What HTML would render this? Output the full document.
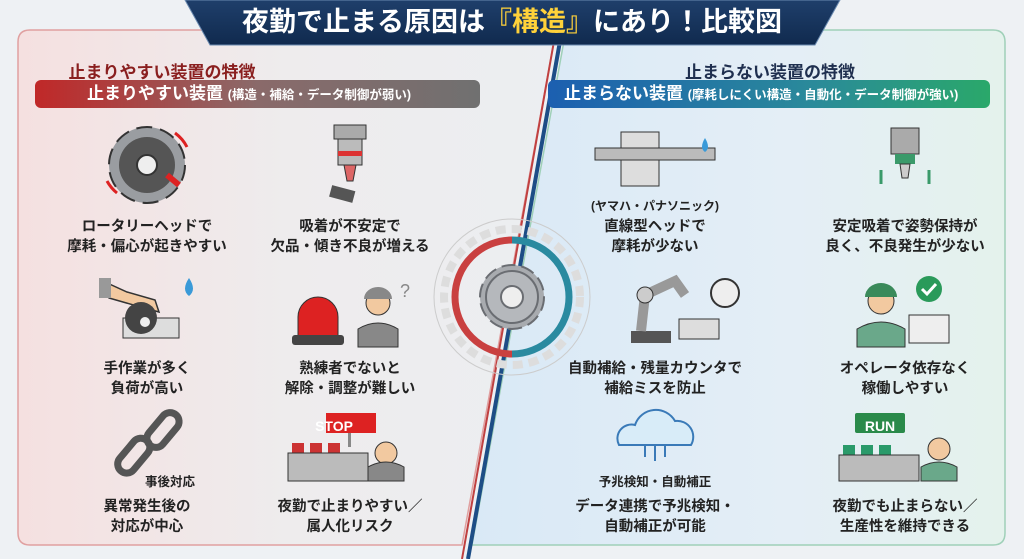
<!DOCTYPE html>
<html><head><meta charset="utf-8"><style>
*{margin:0;padding:0;box-sizing:border-box}
body{width:1024px;height:559px;overflow:hidden;background:#eef1f4;font-family:"Liberation Sans","Noto Sans CJK JP",sans-serif;position:relative}
.t{position:absolute;text-align:center;font-weight:bold;color:#222;font-size:14.5px;line-height:20px;white-space:nowrap;transform:translateX(-50%)}
.h{position:absolute;font-weight:bold;font-size:17px;transform:translateX(-50%);white-space:nowrap}
.bar{position:absolute;height:28px;border-radius:6px;color:#fff;font-weight:bold;font-size:17px;line-height:28px;white-space:nowrap}
.bar small{font-size:12.5px}
svg{position:absolute;left:0;top:0}
</style></head><body>
<svg width="1024" height="559">
<defs>
<linearGradient id="lg" x1="0" x2="1"><stop offset="0" stop-color="#f5e0e0"/><stop offset="0.5" stop-color="#eeeced"/><stop offset="1" stop-color="#eceef1"/></linearGradient>
<linearGradient id="rg" x1="0" x2="1"><stop offset="0" stop-color="#d9e9f6"/><stop offset="0.6" stop-color="#e4eef6"/><stop offset="1" stop-color="#e4f2ec"/></linearGradient>
<linearGradient id="ti" x1="0" x2="0" y1="0" y2="1"><stop offset="0" stop-color="#1f3f6b"/><stop offset="1" stop-color="#102a4e"/></linearGradient>
</defs>
<path d="M30 30 H556 L462 545 H30 Q18 545 18 533 V42 Q18 30 30 30Z" fill="url(#lg)" stroke="#e0a0a0" stroke-width="1.5"/>
<path d="M566 30 H993 Q1005 30 1005 42 V533 Q1005 545 993 545 H472Z" fill="url(#rg)" stroke="#9fd0b8" stroke-width="1.5"/>
<line x1="556" y1="30" x2="462" y2="559" stroke="#c04040" stroke-width="2"/>
<line x1="562" y1="30" x2="468" y2="559" stroke="#1d4d86" stroke-width="4"/>
<path d="M185 0 H840 L815 45 H210Z" fill="url(#ti)" stroke="#6a8ab0" stroke-width="1"/>
<circle cx="512" cy="297" r="78" fill="none" stroke="#ccc" stroke-width="1"/>
<path d="M512 240 A57 57 0 0 0 512 354" fill="none" stroke="#c94040" stroke-width="7"/>
<path d="M512 240 A57 57 0 0 1 512 354" fill="none" stroke="#2a8aa0" stroke-width="7"/>
<circle cx="512" cy="297" r="68" fill="none" stroke="#ddd" stroke-width="8" stroke-dasharray="10 6"/>
<circle cx="512" cy="297" r="32" fill="#a8abaf" stroke="#6a6d72" stroke-width="2" stroke-dasharray="14 6"/>
<circle cx="512" cy="297" r="26" fill="#b5b8bc" stroke="#6a6d72" stroke-width="2"/>
<circle cx="512" cy="297" r="11" fill="#eee" stroke="#6a6d72" stroke-width="2"/>
<g transform="translate(147,165)"><circle r="38" fill="#9a9da1" stroke="#333" stroke-width="2" stroke-dasharray="16 8"/><circle r="28" fill="#555"/><circle r="10" fill="#eee" stroke="#333" stroke-width="2"/><path d="M20 10 L32 20" stroke="#d22" stroke-width="6"/><path d="M28 -32 A40 40 0 0 1 40 -18 M-30 28 A40 40 0 0 1 -40 16" stroke="#d22" stroke-width="3" fill="none"/></g>
<g transform="translate(350,165)"><rect x="-16" y="-40" width="32" height="14" fill="#aaa" stroke="#333"/><rect x="-12" y="-26" width="24" height="26" fill="#bbb" stroke="#333"/><rect x="-12" y="-14" width="24" height="5" fill="#d33"/><path d="M-6 0 L6 0 L3 16 L-3 16Z" fill="#d66" stroke="#333"/><rect x="-12" y="24" width="24" height="12" fill="#555" transform="rotate(15)"/></g>
<g transform="translate(147,310)"><path d="M-42 -28 L-20 -18 L8 -10 L12 2 L-10 -4 L-38 -12Z" fill="#f2c9a0" stroke="#333" stroke-width="1.5"/><rect x="-48" y="-32" width="12" height="20" fill="#999"/><rect x="-24" y="8" width="56" height="20" fill="#ddd" stroke="#333"/><circle cx="-6" cy="8" r="16" fill="#444"/><circle cx="-2" cy="12" r="5" fill="#eee"/><path d="M42 -32 Q50 -20 42 -14 Q34 -20 42 -32Z" fill="#3a9ad8"/></g>
<g transform="translate(350,315)"><path d="M-52 22 V2 A20 20 0 0 1 -12 2 V22Z" fill="#d22" stroke="#333"/><rect x="-58" y="20" width="52" height="10" rx="3" fill="#444"/><circle cx="28" cy="-12" r="12" fill="#f2c9a0" stroke="#333"/><path d="M14 -16 A14 12 0 0 1 42 -16Z" fill="#888"/><path d="M8 32 V14 Q28 2 48 14 V32Z" fill="#888" stroke="#333"/><text x="50" y="-18" font-size="18" fill="#888">?</text></g>
<g transform="translate(147,455)"><rect x="-34" y="-8" width="40" height="18" rx="9" fill="none" stroke="#555" stroke-width="7" transform="rotate(-50 -14 0)"/><rect x="-4" y="-34" width="40" height="18" rx="9" fill="none" stroke="#555" stroke-width="7" transform="rotate(-50 16 -25)"/></g>
<g transform="translate(350,455)"><rect x="-24" y="-42" width="50" height="20" fill="#d22"/><rect x="-2" y="-22" width="3" height="14" fill="#888"/><rect x="-58" y="-12" width="12" height="10" fill="#c33"/><rect x="-40" y="-12" width="12" height="10" fill="#c33"/><rect x="-22" y="-12" width="12" height="10" fill="#c33"/><rect x="-62" y="-2" width="80" height="28" fill="#bbb" stroke="#333"/><circle cx="36" cy="-2" r="11" fill="#f2c9a0" stroke="#333"/><path d="M18 26 V12 Q36 2 54 12 V26Z" fill="#888" stroke="#333"/></g>
<g transform="translate(655,160)"><rect x="-34" y="-28" width="38" height="54" fill="#ddd" stroke="#333"/><rect x="-60" y="-12" width="120" height="12" fill="#bbb" stroke="#333"/><path d="M50 -22 Q56 -12 50 -8 Q44 -12 50 -22Z" fill="#3a9ad8"/></g>
<g transform="translate(905,160)"><rect x="-14" y="-32" width="28" height="26" fill="#aaa" stroke="#333"/><rect x="-10" y="-6" width="20" height="10" fill="#3a9a6a"/><path d="M-5 4 H5 L3 18 H-3Z" fill="#ccc" stroke="#333"/><path d="M-24 10 V24 M24 10 V24" stroke="#3a9a6a" stroke-width="3"/></g>
<g transform="translate(655,315)"><rect x="-24" y="16" width="40" height="12" fill="#555"/><path d="M-14 16 L-10 -20 L20 -34 L30 -20" stroke="#999" stroke-width="10" fill="none"/><circle cx="-10" cy="-20" r="8" fill="#ccc" stroke="#333"/><rect x="24" y="4" width="40" height="20" fill="#ddd" stroke="#333"/><circle cx="70" cy="-22" r="14" fill="#eee" stroke="#333" stroke-width="2"/></g>
<g transform="translate(905,315)"><circle cx="-24" cy="-14" r="13" fill="#f2c9a0" stroke="#333"/><path d="M-40 -18 A16 14 0 0 1 -8 -18Z" fill="#3a8a5a"/><path d="M-48 32 V14 Q-24 0 0 14 V32Z" fill="#6aa88a" stroke="#333"/><rect x="4" y="0" width="40" height="28" fill="#eee" stroke="#333"/><circle cx="24" cy="-26" r="13" fill="#2a9a5a"/><path d="M17 -26 L22 -21 L31 -31" stroke="#fff" stroke-width="3" fill="none"/></g>
<g transform="translate(655,445)"><path d="M-36 0 A14 14 0 0 1 -20 -20 A22 22 0 0 1 20 -24 A16 16 0 0 1 36 0Z" fill="#d8ecf8" stroke="#3a7ab8" stroke-width="2"/><path d="M-10 0 V12 M0 0 V16 M10 0 V12" stroke="#3a7ab8" stroke-width="2"/></g>
<g transform="translate(905,455)"><rect x="-50" y="-42" width="50" height="20" rx="2" fill="#2a8a4a"/><rect x="-62" y="-10" width="12" height="10" fill="#2a9a6a"/><rect x="-44" y="-10" width="12" height="10" fill="#2a9a6a"/><rect x="-26" y="-10" width="12" height="10" fill="#2a9a6a"/><rect x="-66" y="0" width="80" height="26" fill="#bbb" stroke="#333"/><circle cx="34" cy="-6" r="11" fill="#f2c9a0" stroke="#333"/><path d="M16 26 V12 Q34 2 52 12 V26Z" fill="#6aa88a" stroke="#333"/></g>
</svg>
<div style="position:absolute;left:200px;width:624px;top:6px;text-align:center;color:#fff;font-weight:bold;font-size:27px;line-height:32px">夜勤で止まる原因は<span style="color:#ffd23a">『構造』</span>にあり！比較図</div>
<div class="h" style="left:162px;top:58px;color:#8a1f1f">止まりやすい装置の特徴</div>
<div class="h" style="left:770px;top:58px;color:#1f2f4f">止まらない装置の特徴</div>
<div class="bar" style="left:35px;width:445px;top:80px;background:linear-gradient(90deg,#c02828,#8a6a6a 50%,#707070);padding-left:52px">止まりやすい装置 <small>(構造・補給・データ制御が弱い)</small></div>
<div class="bar" style="left:548px;width:442px;top:80px;background:linear-gradient(90deg,#1c5fb0,#2a8a9a 60%,#2aa86a);padding-left:16px">止まらない装置 <small>(摩耗しにくい構造・自動化・データ制御が強い)</small></div>
<div class="t" style="left:147px;top:217px">ロータリーヘッドで<br>摩耗・偏心が起きやすい</div>
<div class="t" style="left:350px;top:217px">吸着が不安定で<br>欠品・傾き不良が増える</div>
<div class="t" style="left:147px;top:359px">手作業が多く<br>負荷が高い</div>
<div class="t" style="left:350px;top:359px">熟練者でないと<br>解除・調整が難しい</div>
<div class="t" style="left:170px;top:472px;font-size:12.5px">事後対応</div>
<div class="t" style="left:147px;top:497px">異常発生後の<br>対応が中心</div>
<div class="t" style="left:350px;top:497px">夜勤で止まりやすい／<br>属人化リスク</div>
<div class="t" style="left:334px;top:416px;color:#fff;font-size:14px">STOP</div>
<div class="t" style="left:655px;top:196px;font-size:12px">(ヤマハ・パナソニック)</div>
<div class="t" style="left:655px;top:217px">直線型ヘッドで<br>摩耗が少ない</div>
<div class="t" style="left:905px;top:217px">安定吸着で姿勢保持が<br>良く、不良発生が少ない</div>
<div class="t" style="left:655px;top:359px">自動補給・残量カウンタで<br>補給ミスを防止</div>
<div class="t" style="left:905px;top:359px">オペレータ依存なく<br>稼働しやすい</div>
<div class="t" style="left:655px;top:472px;font-size:12.5px">予兆検知・自動補正</div>
<div class="t" style="left:655px;top:497px">データ連携で予兆検知・<br>自動補正が可能</div>
<div class="t" style="left:905px;top:497px">夜勤でも止まらない／<br>生産性を維持できる</div>
<div class="t" style="left:880px;top:416px;color:#fff;font-size:14px">RUN</div>
</body></html>
